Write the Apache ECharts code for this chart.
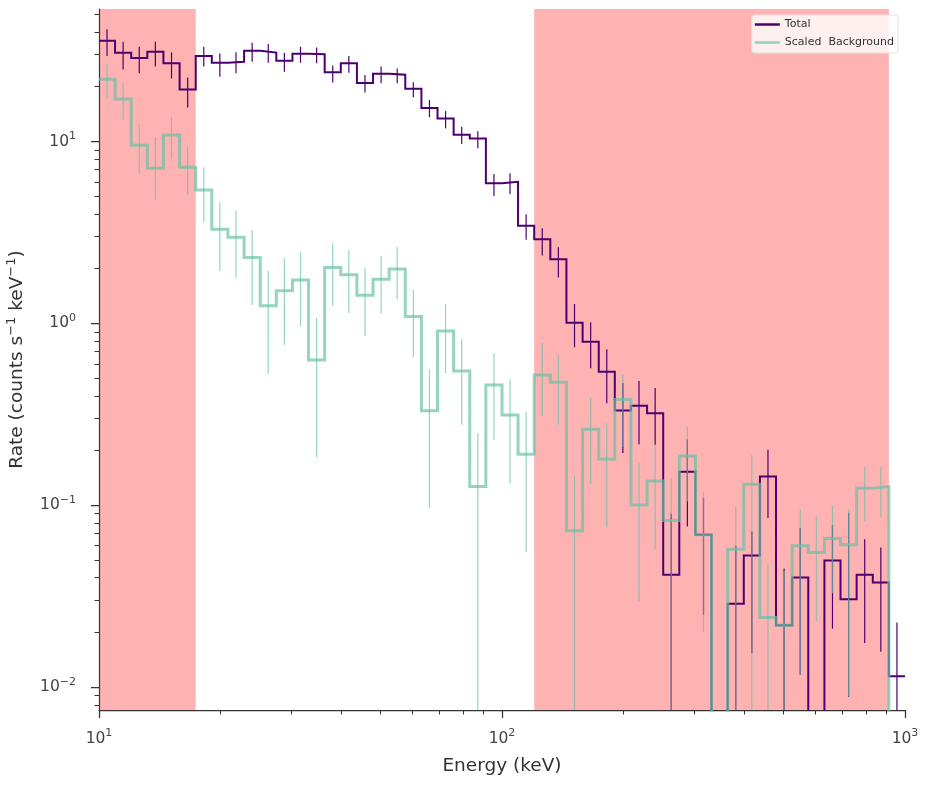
<!DOCTYPE html>
<html>
<head>
<meta charset="utf-8">
<title>Rate spectrum</title>
<script src="https://cdn.jsdelivr.net/npm/echarts@6/dist/echarts.min.js"></script>
<style>
  html, body { margin: 0; padding: 0; background: #fff; }
  #main { width: 930px; height: 786px; }
</style>
</head>
<body>
<div id="main"></div>
<script>
// 50 log-spaced energy bins, edges in keV
const binEdges = [10, 10.96, 12.02, 13.18, 14.45, 15.85, 17.38, 19.05, 20.89, 22.91,
  25.12, 27.54, 30.2, 33.11, 36.31, 39.81, 43.65, 47.86, 52.48, 57.54,
  63.1, 69.18, 75.86, 83.18, 91.2, 100, 109.6, 120.2, 131.8, 144.5,
  158.5, 173.8, 190.5, 208.9, 229.1, 251.2, 275.4, 302, 331.1, 363.1,
  398.1, 436.5, 478.6, 524.8, 575.4, 631, 691.8, 758.6, 831.8, 912, 1000]

// Total rate per bin, with error bar ends (0 = below the axis)
const totalRate = [35.8, 30.8, 28.8, 31.1, 26.9, 19.3, 29.5, 27.1, 27.4, 31.5,
  30.8, 27.8, 30.4, 30.2, 24.0, 26.9, 21.0, 23.6, 23.3, 19.5,
  15.3, 13.4, 10.9, 10.4, 5.89, 6.01, 3.44, 2.90, 2.25, 1.01,
  0.794, 0.543, 0.332, 0.353, 0.321, 0.0415, 0.153, 0.0689, 0, 0.0288,
  0.0530, 0.144, 0.0219, 0.0401, 0, 0.0497, 0.0305, 0.0415, 0.0377, 0.0115]
const totalLo = [29.5, 24.9, 23.7, 25.8, 22.2, 15.4, 25.8, 22.7, 23.7, 27.4,
  27.1, 24.2, 27.1, 26.9, 21.1, 23.9, 18.6, 20.9, 20.9, 17.5,
  13.6, 11.8, 9.69, 9.18, 5.02, 5.13, 2.88, 2.36, 1.79, 0.740,
  0.567, 0.364, 0.194, 0.217, 0.215, 0, 0.0765, 0.025, null, 0,
  0.0154, 0.0851, 0, 0.0117, null, 0.021, 0.00886, 0.0175, 0.0157, 0]
const totalHi = [41.4, 35.3, 33.2, 35.3, 30.9, 22.5, 33.2, 30.5, 30.9, 34.9,
  34.3, 30.8, 33.2, 32.9, 26.2, 29.5, 23.2, 25.8, 25.2, 21.2,
  16.9, 14.7, 12.06, 11.4, 6.63, 6.69, 3.98, 3.34, 2.62, 1.28,
  1.015, 0.722, 0.471, 0.483, 0.441, 0.09, 0.23, 0.11, null, 0.06,
  0.0718, 0.202, 0.045, 0.075, null, 0.078, 0.091, 0.0652, 0.0586, 0.0227]

// Scaled background rate per bin, with error bar ends
const bkgRate = [22.0, 17.1, 9.53, 7.13, 10.86, 7.21, 5.41, 3.29, 2.98, 2.30,
  1.25, 1.51, 1.73, 0.630, 2.03, 1.85, 1.43, 1.75, 1.99, 1.09,
  0.331, 0.909, 0.548, 0.1268, 0.459, 0.314, 0.191, 0.521, 0.475, 0.0724,
  0.262, 0.180, 0.3815, 0.1006, 0.1363, 0.0825, 0.187, 0.0689, 0, 0.0574,
  0.1308, 0.0242, 0.0219, 0.0599, 0.0550, 0.0657, 0.0607, 0.1243, 0.1268, 0]
const bkgLo = [17.1, 13.1, 6.69, 4.77, 7.98, 5.08, 3.60, 1.95, 1.78, 1.26,
  0.528, 0.762, 0.960, 0.184, 1.25, 1.14, 0.854, 1.13, 1.36, 0.652,
  0.0965, 0.533, 0.277, 0, 0.229, 0.132, 0.0553, 0.310, 0.277, 0,
  0.131, 0.0759, 0.210, 0.0294, 0.0574, 0, 0.105, 0.020, null, 0,
  0, 0, 0, 0.0117, 0.0230, 0.0329, 0.0089, 0.0815, 0.0861, null]
const bkgHi = [26.6, 21.0, 12.4, 10.6, 13.6, 9.36, 7.21, 4.63, 4.17, 3.26,
  1.95, 2.28, 2.48, 1.07, 2.76, 2.53, 2.01, 2.35, 2.62, 1.53,
  0.560, 1.28, 0.819, 0.249, 0.686, 0.494, 0.327, 0.78, 0.671, 0.144,
  0.393, 0.283, 0.528, 0.171, 0.215, 0.141, 0.271, 0.119, null, 0.0985,
  0.189, 0.0477, 0.0437, 0.0945, 0.0868, 0.0994, 0.095, 0.163, 0.163, null]

// shaded (ignored) energy ranges, keV
const excludedRanges = [[10, 17.38], [120.2, 912]]

const xMajorTicks = [10, 100, 1000]
const yMajorTicks = [0.01, 0.1, 1, 10]
const xRange = [10, 1000]
const yRange = [0.0075, 53.5]

const purple = '#4c0070'
const teal = 'rgba(102,194,165,0.7)'
const ink = '#333'

// axes are linear in log10 space; zero values are pushed far below the axis
const lg = (v) => Math.log10(v > 0 ? v : 1e-4)

function minorTicks(lo, hi) {
  const out = []
  for (let d = Math.floor(Math.log10(lo)); d <= Math.ceil(Math.log10(hi)); d++) {
    for (let m = 2; m <= 9; m++) {
      const v = m * Math.pow(10, d)
      if (v > lo && v < hi) out.push(Math.log10(v))
    }
  }
  return out
}

function stepData(rates) {
  const pts = rates.map((r, i) => [lg(binEdges[i]), lg(r)])
  pts.push([lg(binEdges[binEdges.length - 1]), lg(rates[rates.length - 1])])
  return pts
}

function errData(rates, lo, hi) {
  const out = []
  rates.forEach((r, i) => {
    if (lo[i] === null || hi[i] === null) return
    const xc = Math.sqrt(binEdges[i] * binEdges[i + 1])
    out.push([lg(xc), lg(lo[i]), lg(hi[i])])
  })
  return out
}

function errSeries(name, data, color) {
  return {
    name: name,
    type: 'custom',
    clip: true,
    z: 4,
    encode: { x: 0, y: [1, 2] },
    data: data,
    renderItem: function (params, api) {
      const a = api.coord([api.value(0), api.value(1)])
      const b = api.coord([api.value(0), api.value(2)])
      return {
        type: 'line',
        shape: { x1: a[0], y1: a[1], x2: b[0], y2: b[1] },
        style: { stroke: color, lineWidth: 1.2 },
      }
    },
  }
}

function powLabel(v) {
  const e = Math.round(v)
  return '{b|10}{s|' + (e < 0 ? '\u2212' + -e : e) + '}'
}

const labelRich = {
  b: { fontSize: 15.5, color: '#444', fontFamily: 'DejaVu Sans', lineHeight: 22 },
  s: { fontSize: 11, color: '#444', fontFamily: 'DejaVu Sans', verticalAlign: 'top', lineHeight: 12 },
}

const chart = echarts.init(document.getElementById('main'), null, { renderer: 'canvas' })

const option = {
  animation: false,
  backgroundColor: '#fff',
  grid: { left: 99, right: 25, top: 9, bottom: 76, outerBoundsMode: 'none', containLabel: false },
  legend: {
    data: [
      { name: 'Total', icon: 'rect' },
      { name: 'Scaled  Background', icon: 'rect' },
    ],
    orient: 'vertical',
    right: 32,
    top: 15,
    padding: [3, 4, 4, 3],
    itemGap: 5,
    itemWidth: 25,
    itemHeight: 2.5,
    backgroundColor: 'rgba(255,255,255,0.8)',
    borderColor: '#e2e2e2',
    borderWidth: 1,
    borderRadius: 3,
    textStyle: { fontSize: 11, color: '#333', fontFamily: 'DejaVu Sans', lineHeight: 13 },
  },
  xAxis: [
    {
      type: 'value',
      min: lg(xRange[0]),
      max: lg(xRange[1]),
      interval: 1,
      name: 'Energy (keV)',
      nameLocation: 'middle',
      nameGap: 45,
      nameTextStyle: { fontSize: 18.5, color: '#333', fontFamily: 'DejaVu Sans', lineHeight: 22 },
      splitLine: { show: false },
      axisLine: { onZero: false, lineStyle: { color: ink, width: 1.25 } },
      axisTick: { length: 8, lineStyle: { color: ink, width: 1.25 }, customValues: xMajorTicks.map(lg) },
      axisLabel: { margin: 18, formatter: powLabel, rich: labelRich, customValues: xMajorTicks.map(lg) },
    },
    {
      type: 'value',
      position: 'bottom',
      min: lg(xRange[0]),
      max: lg(xRange[1]),
      splitLine: { show: false },
      axisLine: { show: false, onZero: false },
      axisLabel: { show: false },
      axisTick: { length: 4.5, lineStyle: { color: ink, width: 1 }, customValues: minorTicks(xRange[0], xRange[1]) },
    },
  ],
  yAxis: [
    {
      type: 'value',
      min: lg(yRange[0]),
      max: lg(yRange[1]),
      name: 'Rate (counts s{s|\u22121} keV{s|\u22121})',
      nameLocation: 'middle',
      nameGap: 63,
      nameTextStyle: {
        fontSize: 18.5, color: '#333', fontFamily: 'DejaVu Sans', lineHeight: 24,
        rich: { s: { fontSize: 13, color: '#333', fontFamily: 'DejaVu Sans', verticalAlign: 'top', lineHeight: 13 } },
      },
      splitLine: { show: false },
      axisLine: { onZero: false, lineStyle: { color: ink, width: 1.25 } },
      axisTick: { length: 8, lineStyle: { color: ink, width: 1.25 }, customValues: yMajorTicks.map(lg) },
      axisLabel: { margin: 23, formatter: powLabel, rich: labelRich, customValues: yMajorTicks.map(lg) },
    },
    {
      type: 'value',
      position: 'left',
      min: lg(yRange[0]),
      max: lg(yRange[1]),
      splitLine: { show: false },
      axisLine: { show: false, onZero: false },
      axisLabel: { show: false },
      axisTick: { length: 4.5, lineStyle: { color: ink, width: 1 }, customValues: minorTicks(yRange[0], yRange[1]) },
    },
  ],
  series: [
    {
      name: 'ranges',
      type: 'line',
      z: 1,
      data: [],
      markArea: {
        silent: true,
        itemStyle: { color: 'rgba(255,0,0,0.3)' },
        data: excludedRanges.map((r) => [{ xAxis: lg(r[0]) }, { xAxis: lg(r[1]) }]),
      },
    },
    {
      name: 'Total',
      type: 'line',
      step: 'end',
      z: 3,
      symbol: 'none',
      color: purple,
      lineStyle: { color: purple, width: 2, join: 'miter' },
      data: stepData(totalRate),
    },
    errSeries('Total err', errData(totalRate, totalLo, totalHi), purple),
    {
      name: 'Scaled  Background',
      type: 'line',
      step: 'end',
      z: 5,
      symbol: 'none',
      color: teal,
      lineStyle: { color: teal, width: 3, join: 'miter' },
      data: stepData(bkgRate),
    },
    errSeries('Background err', errData(bkgRate, bkgLo, bkgHi), teal),
  ],
}

chart.setOption(option)
</script>
</body>
</html>
